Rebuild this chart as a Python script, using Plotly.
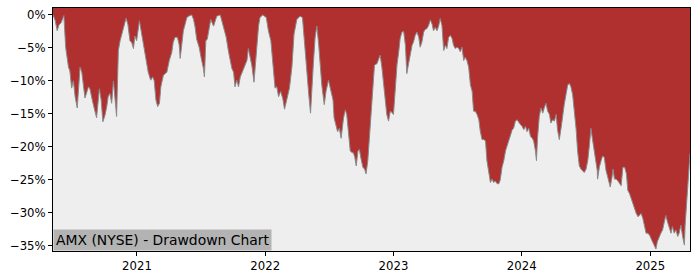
import pandas as pd
import plotly.graph_objects as go

start_date = "2020-05-07"
# day offsets from start_date
day = [0, 6, 12, 17, 23, 31, 36, 44, 48, 53, 58, 63, 69, 77, 82, 86, 91, 101, 105, 113,
       124, 132, 137, 142, 148, 153, 157, 162, 167, 172, 177, 181, 186, 191, 200, 208, 213, 219, 224, 229,
       233, 238, 246, 253, 259, 267, 271, 278, 284, 288, 293, 298, 303, 307, 314, 319, 324, 331, 338, 342,
       347, 354, 359, 362, 366, 371, 376, 381, 387, 395, 400, 404, 409, 416, 422, 428, 431, 435, 439, 445,
       449, 457, 461, 466, 476, 480, 485, 493, 499, 504, 509, 514, 518, 523, 528, 533, 537, 547, 552, 556,
       561, 566, 572, 575, 580, 585, 589, 597, 607, 613, 620, 626, 632, 637, 642, 648, 654, 659, 665, 673,
       680, 686, 694, 703, 710, 715, 722, 728, 733, 737, 741, 746, 751, 756, 760, 765, 772, 777, 784, 791,
       797, 800, 806, 810, 815, 820, 827, 832, 836, 841, 846, 851, 855, 859, 863, 868, 872, 877, 882, 887,
       891, 896, 901, 906, 910, 915, 922, 926, 931, 936, 941, 946, 950, 955, 960, 965, 969, 974, 979, 984,
       988, 993, 998, 1003, 1007, 1012, 1017, 1022, 1026, 1031, 1036, 1041, 1045, 1050, 1055, 1059, 1064, 1069, 1074, 1079,
       1083, 1088, 1093, 1098, 1102, 1107, 1112, 1117, 1121, 1126, 1131, 1136, 1140, 1145, 1150, 1155, 1159, 1164, 1169, 1173,
       1178, 1183, 1188, 1193, 1197, 1202, 1207, 1212, 1216, 1221, 1226, 1231, 1235, 1240, 1245, 1250, 1254, 1259, 1264, 1269,
       1273, 1278, 1283, 1288, 1292, 1297, 1302, 1307, 1311, 1316, 1321, 1326, 1330, 1335, 1340, 1345, 1349, 1354, 1359, 1364,
       1368, 1373, 1376, 1379, 1384, 1389, 1394, 1398, 1403, 1408, 1413, 1417, 1422, 1427, 1432, 1436, 1441, 1446, 1451, 1455,
       1460, 1465, 1470, 1474, 1479, 1484, 1489, 1493, 1498, 1503, 1508, 1512, 1517, 1522, 1527, 1531, 1535, 1539, 1544, 1549,
       1550, 1555, 1560, 1564, 1569, 1574, 1579, 1583, 1586, 1591, 1594, 1598, 1603, 1608, 1613, 1617, 1622, 1627, 1632, 1636,
       1641, 1646, 1651, 1655, 1660, 1665, 1669, 1674, 1679, 1683, 1688, 1693, 1698, 1702, 1707, 1712, 1716, 1720, 1725, 1730,
       1735, 1739, 1744, 1749, 1754, 1759, 1763, 1768, 1773, 1778, 1782, 1787, 1792, 1797, 1799, 1804, 1809, 1813]

drawdown = [0.0, -0.8, -2.4, -1.5, -1.2, -0.1, -4.9, -7.9, -8.5, -11.1, -10.0, -12.4, -14.1, -7.9, -8.7, -10.4, -12.6, -10.9, -11.2, -13.2,
            -15.6, -11.2, -12.9, -16.2, -15.2, -13.9, -12.4, -11.9, -13.4, -10.0, -12.9, -15.4, -5.4, -3.9, -2.1, -0.5, -1.4, -3.9, -4.2, -5.1,
            -3.2, -3.9, -0.9, -3.2, -4.5, -7.1, -8.7, -9.9, -9.4, -10.0, -12.9, -13.9, -13.4, -10.9, -9.2, -8.9, -8.7, -6.9, -5.7, -4.2,
            -3.4, -3.4, -4.5, -6.6, -4.2, -2.4, -1.4, -0.4, -0.15, 0.0, -0.7, -1.7, -3.7, -4.9, -6.6, -8.1, -9.4, -3.9, -3.7, -1.9,
            -0.7, -1.7, -0.9, -0.2, 0.0, -0.9, -1.9, -3.4, -5.4, -6.6, -8.1, -8.7, -10.9, -9.9, -10.9, -9.4, -8.9, -7.6, -6.9, -5.1,
            -6.4, -7.7, -10.2, -7.9, -4.4, -1.7, -0.4, 0.0, -0.4, -2.4, -3.9, -7.1, -11.1, -10.9, -12.4, -11.6, -12.7, -14.3, -12.7, -11.1,
            -7.9, -2.9, -0.7, -0.2, -0.4, -3.9, -8.9, -12.1, -14.9, -11.9, -7.4, -3.4, -1.7, -4.4, -7.5, -10.6, -13.6, -11.6, -9.9, -11.6,
            -12.9, -15.6, -16.9, -17.7, -17.2, -18.7, -15.6, -14.4, -15.1, -17.4, -20.6, -20.9, -20.9, -21.6, -22.9, -20.6, -20.4, -21.9, -23.1, -23.4,
            -24.1, -22.1, -18.1, -13.6, -10.6, -7.6, -7.4, -6.9, -6.1, -7.9, -10.6, -13.1, -15.1, -16.1, -14.6, -14.8, -15.1, -11.4, -7.6, -5.6,
            -3.6, -2.6, -2.5, -4.6, -8.9, -7.4, -5.9, -4.6, -4.1, -3.1, -2.6, -3.4, -4.9, -4.1, -2.6, -2.2, -2.1, -1.6, -0.75, -1.4,
            -2.4, -1.9, -2.4, -1.6, -0.55, -1.6, -5.4, -4.6, -5.1, -3.4, -3.1, -3.6, -4.6, -5.1, -4.9, -5.1, -5.6, -4.9, -6.9, -6.4,
            -6.9, -7.9, -10.6, -11.6, -14.6, -14.6, -15.1, -15.9, -17.6, -18.9, -18.9, -19.1, -22.1, -23.6, -25.4, -24.9, -25.4, -25.2, -25.6, -25.6,
            -25.0, -23.1, -22.1, -20.6, -19.9, -19.1, -18.4, -17.4, -17.2, -16.1, -15.9, -16.4, -16.6, -16.9, -17.4, -16.9, -17.7, -17.2, -18.4, -18.7,
            -19.1, -20.6, -22.1, -18.7, -15.4, -14.1, -14.9, -14.1, -13.4, -14.6, -15.1, -16.4, -15.9, -16.1, -15.1, -17.4, -18.9, -17.2, -14.9, -13.6,
            -12.1, -10.6, -10.4, -10.9, -12.1, -14.6, -17.4, -20.6, -22.9, -23.4, -23.6, -23.9, -23.4, -22.1, -19.6, -17.2, -18.7, -20.1, -21.6, -23.6,
            -24.9, -23.1, -22.1, -21.4, -21.6, -23.6, -24.6, -25.4, -26.1, -24.6, -23.4, -24.9, -24.9, -25.2, -25.6, -25.9, -23.1, -23.1, -24.1, -26.6,
            -27.1, -27.9, -28.6, -29.6, -30.1, -30.6, -30.4, -30.1, -30.9, -31.9, -33.1, -33.1, -33.4, -33.9, -34.4, -35.1, -35.5, -34.4, -33.6, -33.1,
            -32.6, -31.6, -30.4, -31.4, -32.1, -33.1, -32.1, -33.1, -32.6, -33.6, -33.1, -31.9, -33.6, -34.9, -32.0, -28.1, -24.0, -21.0]

x_tick_years = ["2021", "2022", "2023", "2024", "2025"]
y_tick_values = [0, -5, -10, -15, -20, -25, -30, -35]
y_tick_labels = ["0%", "\u22125%", "\u221210%", "\u221215%", "\u221220%", "\u221225%", "\u221230%", "\u221235%"]
title_text = "AMX (NYSE) - Drawdown Chart"

dates = pd.Timestamp(start_date) + pd.to_timedelta(day, unit="D")

RED = "#b03030"
GRAY_BG = "#eeeeee"
FONT = "DejaVu Sans"

fig = go.Figure()
# baseline below visible range so gray fill reaches the bottom of the axes
fig.add_trace(go.Scatter(x=dates, y=[-100] * len(dates), mode="lines",
                         line=dict(width=0, color=GRAY_BG), hoverinfo="skip", showlegend=False))
fig.add_trace(go.Scatter(x=dates, y=drawdown, mode="lines", fill="tonexty",
                         fillcolor=GRAY_BG, line=dict(color="#8a8a8a", width=1),
                         showlegend=False))

fig.update_layout(
    width=700, height=280,
    margin=dict(l=53, r=10, t=7, b=28),
    paper_bgcolor="white",
    plot_bgcolor=RED,
    font=dict(family=FONT, size=11.7, color="black"),
    annotations=[dict(text=title_text, x=0, y=0, xref="paper", yref="paper",
                      xanchor="left", yanchor="bottom", showarrow=False,
                      bgcolor="#b3b3b3", borderpad=2,
                      font=dict(family=FONT, size=13.9, color="black"))],
)
fig.update_xaxes(
    range=[dates[0], dates[-1]],
    tickvals=[pd.Timestamp(f"{y}-01-01") for y in x_tick_years],
    ticktext=x_tick_years,
    showgrid=False, zeroline=False,
    showline=True, linecolor="black", linewidth=1, mirror=True,
    ticks="outside", ticklen=4, tickwidth=1, tickcolor="black",
)
fig.update_yaxes(
    range=[-35.8, 1.05],
    tickvals=y_tick_values, ticktext=y_tick_labels,
    showgrid=False, zeroline=False,
    showline=True, linecolor="black", linewidth=1, mirror=True,
    ticks="outside", ticklen=4, tickwidth=1, tickcolor="black",
)

fig.write_html("out.html")
